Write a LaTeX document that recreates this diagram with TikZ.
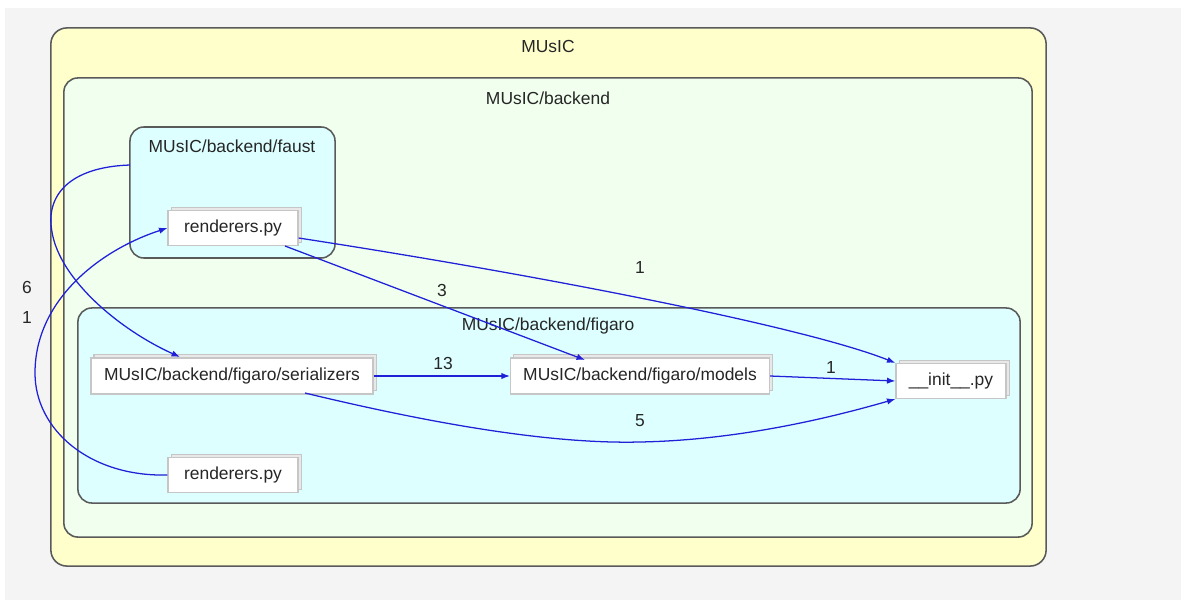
\documentclass[tikz,border=0pt]{standalone}
\usepackage{fontspec}
\setmainfont{Liberation Sans}
\usetikzlibrary{arrows.meta,shadows}
\definecolor{bgray}{HTML}{F4F4F4}
\definecolor{outerfill}{HTML}{FFFFCC}
\definecolor{backfill}{HTML}{F0FFEE}
\definecolor{clfill}{HTML}{DDFFFF}
\definecolor{frameline}{HTML}{5A5A5A}
\definecolor{edgeblue}{HTML}{2020D8}
\tikzset{
  cluster/.style={draw=frameline, line width=1.1pt, rounded corners=0.4cm, inner sep=0pt},
  ctitle/.style={font=\fontsize{12.4}{14}\selectfont, text=black!85, inner sep=1pt},
  filebox/.style={draw=gray!45, fill=white, line width=0.8pt, inner sep=0pt,
    font=\fontsize{12.4}{14}\selectfont, text=black!85,
    copy shadow={shadow xshift=2.2pt, shadow yshift=2.2pt, fill=gray!18, draw=gray!45}},
  dep/.style={draw=edgeblue, line width=0.9pt, -{Latex[length=6pt,width=4.5pt]}},
  elabel/.style={font=\fontsize{12.4}{14}\selectfont, text=black!85, inner sep=1pt}
}
\begin{document}
\begin{tikzpicture}[x=0.025cm, y=-0.025cm]
\useasboundingbox (0,0) rectangle (1186,604);
\fill[white] (0,0) rectangle (1186,604);
\fill[bgray] (5,8) rectangle (1181,600);
% clusters
\node[cluster, fill=outerfill, minimum width=24.875cm, minimum height=13.45cm] (music) at (548.5,297) {};
\node[ctitle] (musict) at (548,46) {MUsIC};
\node[cluster, fill=backfill, minimum width=24.2cm, minimum height=11.475cm, rounded corners=0.35cm] (backend) at (548,307.5) {};
\node[ctitle] (backendt) at (548,98) {MUsIC/backend};
\node[cluster, fill=clfill, minimum width=5.125cm, minimum height=3.275cm, rounded corners=0.35cm] (faust) at (232.5,192.5) {};
\node[ctitle] (faustt) at (232,146) {MUsIC/backend/faust};
\node[cluster, fill=clfill, minimum width=23.55cm, minimum height=4.875cm, rounded corners=0.35cm] (figaro) at (549,405.5) {};
\node[ctitle] (figarot) at (548,326) {MUsIC/backend/figaro};
% files
\node[filebox, minimum width=3.25cm, minimum height=0.875cm] (rendf) at (233,228) {renderers.py};
\node[filebox, minimum width=7.05cm, minimum height=0.9cm] (ser) at (232,376) {MUsIC/backend/figaro/serializers};
\node[filebox, minimum width=6.475cm, minimum height=0.9cm] (models) at (640,376) {MUsIC/backend/figaro/models};
\node[filebox, minimum width=2.75cm, minimum height=0.875cm] (init) at (951,381) {\_\_init\_\_.py};
\node[filebox, minimum width=3.25cm, minimum height=0.875cm] (rendg) at (233,475) {renderers.py};
% edges
\coordinate (faustout) at (130,165);
\draw[dep] (rendf.east |- 0,238) .. controls (520,272) and (800,325) .. (init.north west);
\draw[dep] (285,246) -- (585,360);
\draw[dep] (ser.east) -- (models.west);
\draw[dep] (models.east) -- (init.west);
\draw[dep] (305,393) .. controls (450,428) and (560,444) .. (640,442) .. controls (750,440) and (850,412) .. (init.south west);
\draw[dep] (faustout) .. controls (70,167) and (45,195) .. (52,232) .. controls (60,280) and (120,330) .. (180,357);
\draw[dep] (rendg.west) .. controls (90,477) and (35,430) .. (35,373) .. controls (35,300) and (100,250) .. (rendf.west);
% labels
\node[elabel] (l1) at (640,268) {1};
\node[elabel] (l3) at (442,290) {3};
\node[elabel] (l13) at (443,363) {13};
\node[elabel] (l1b) at (831,367) {1};
\node[elabel] (l5) at (640,421) {5};
\node[elabel] (l6) at (27,287) {6};
\node[elabel] (l1c) at (27,318) {1};
\end{tikzpicture}
\end{document}
